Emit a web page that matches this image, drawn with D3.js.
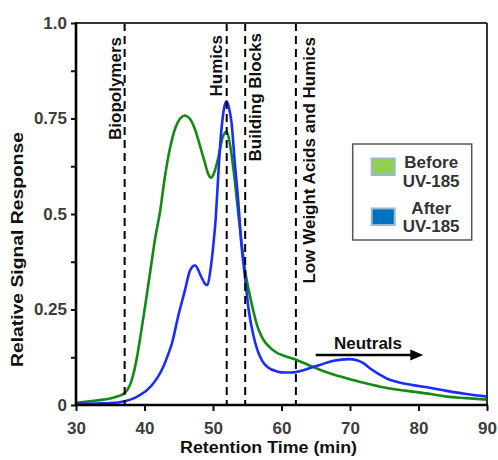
<!DOCTYPE html>
<html>
<head>
<meta charset="utf-8">
<script src="https://cdn.jsdelivr.net/npm/d3@7"></script>
<style>
  body { margin: 0; background: #fff; }
  text { font-family: Arial, "Liberation Sans", sans-serif; font-weight: bold; }
</style>
</head>
<body>
<div id="chart"></div>
<script>
// retention time (min) / relative signal, before UV-185
var beforeT = [30, 32, 34, 35, 36, 37, 37.5, 38, 38.5, 39, 39.5, 40.1, 40.8, 41.5, 42.3, 43.0, 43.7, 44.5, 45.2, 45.9, 46.6, 47.3, 48.0, 48.8, 49.3, 49.7, 50.1, 50.8, 51.4, 52.0, 52.5, 53.1, 53.7, 54.2, 54.7, 55.4, 56.0, 56.5, 57.0, 57.5, 58.3, 59.2, 60.5, 62.2, 64, 65.1, 67, 69.5, 72, 74.4, 77, 79.2, 82, 84.1, 87, 90];
var beforeV = [0.006, 0.010, 0.014, 0.017, 0.022, 0.030, 0.040, 0.058, 0.090, 0.135, 0.19, 0.26, 0.345, 0.43, 0.51, 0.60, 0.67, 0.725, 0.75, 0.758, 0.75, 0.725, 0.685, 0.635, 0.605, 0.595, 0.605, 0.65, 0.70, 0.716, 0.68, 0.60, 0.50, 0.42, 0.35, 0.285, 0.238, 0.205, 0.183, 0.167, 0.151, 0.138, 0.128, 0.118, 0.104, 0.096, 0.083, 0.070, 0.058, 0.048, 0.040, 0.035, 0.028, 0.022, 0.018, 0.014];

// after UV-185
var afterT = [30, 33, 35, 37.1, 38.5, 39.3, 40.3, 41.3, 42.0, 42.75, 43.4, 44.0, 44.9, 45.9, 46.6, 47.0, 47.4, 47.8, 48.3, 48.8, 49.2, 49.6, 50.0, 50.4, 50.7, 51.0, 51.4, 51.8, 52.0, 52.3, 52.7, 53.2, 53.7, 54.1, 54.7, 55.2, 55.9, 56.5, 57.2, 58.0, 59.3, 60.5, 61.5, 63.2, 64.5, 65.6, 67.6, 69.8, 71, 71.9, 73, 74.4, 75.5, 76.8, 79.2, 82, 84.1, 87, 90];
var afterV = [0.003, 0.004, 0.005, 0.010, 0.018, 0.026, 0.038, 0.057, 0.075, 0.10, 0.13, 0.161, 0.231, 0.30, 0.350, 0.362, 0.366, 0.355, 0.335, 0.318, 0.314, 0.35, 0.41, 0.49, 0.58, 0.67, 0.75, 0.79, 0.795, 0.78, 0.74, 0.63, 0.53, 0.43, 0.33, 0.25, 0.182, 0.143, 0.115, 0.099, 0.088, 0.085, 0.085, 0.091, 0.099, 0.105, 0.116, 0.120, 0.117, 0.110, 0.095, 0.079, 0.068, 0.061, 0.052, 0.044, 0.037, 0.029, 0.022];

// fraction boundaries (dashed lines)
var regionT = [37.1, 52.0, 54.7, 62.1];
var regionLabels = ['Biopolymers', 'Humics', 'Building Blocks', 'Low Weight Acids and Humics'];

var xTicks = [30, 40, 50, 60, 70, 80, 90];
var yTicks = [0, 0.25, 0.5, 0.75, 1];
var yTickLabels = ['0', '0.25', '0.5', '0.75', '1.0'];
var yMinor = [0.125, 0.375, 0.625, 0.875];

var legendLabels = [['Before', 'UV-185'], ['After', 'UV-185']];
var neutralsT = [65, 80.7];
var neutralsV = 0.131;

var margins = {left: 76, right: 11, top: 23, bottom: 55},
  w = 498 - margins.left - margins.right,
  h = 460 - margins.top - margins.bottom;

var svg = d3.select('#chart')
  .append('svg')
  .attr('width', 498)
  .attr('height', 460)
  .append('g')
  .attr('transform', 'translate(' + margins.left + ',' + margins.top + ')');

var xScale = d3.scaleLinear().range([0, w]).domain([30, 90]);
var yScale = d3.scaleLinear().range([h, 0]).domain([0, 1]);

// axes
svg.append('g')
  .attr('class', 'axis y-axis')
  .call(d3.axisLeft(yScale).tickValues(yTicks).tickSize(5).tickPadding(4)
    .tickFormat(function(d, i) { return yTickLabels[i]; }));
svg.append('g')
  .call(d3.axisLeft(yScale).tickValues(yMinor).tickSize(5).tickFormat(''));
svg.append('g')
  .attr('class', 'axis x-axis')
  .attr('transform', 'translate(0,' + h + ')')
  .call(d3.axisBottom(xScale).tickValues(xTicks).tickSize(6).tickPadding(11));

svg.selectAll('.domain').remove();
svg.selectAll('.tick line').attr('stroke', '#111').attr('stroke-width', 2);
svg.selectAll('.tick text')
  .attr('font-size', 17)
  .attr('font-family', 'Arial, "Liberation Sans", sans-serif')
  .attr('font-weight', 'bold')
  .attr('fill', '#3d3d3d');

// curves
var line = d3.line()
  .x(function(d) { return xScale(d[0]); })
  .y(function(d) { return yScale(d[1]); })
  .curve(d3.curveMonotoneX);

svg.append('path')
  .datum(d3.zip(beforeT, beforeV))
  .attr('d', line)
  .attr('fill', 'none')
  .attr('stroke', '#138a13')
  .attr('stroke-width', 2.6);

svg.append('path')
  .datum(d3.zip(afterT, afterV))
  .attr('d', line)
  .attr('fill', 'none')
  .attr('stroke', '#1c2cff')
  .attr('stroke-width', 2.6);

// dashed region boundaries
svg.selectAll('.region')
  .data(regionT)
  .enter()
  .append('line')
  .attr('class', 'region')
  .attr('x1', function(d) { return xScale(d); })
  .attr('x2', function(d) { return xScale(d); })
  .attr('y1', 0)
  .attr('y2', h)
  .attr('stroke', '#000')
  .attr('stroke-width', 2)
  .attr('stroke-dasharray', '8,5');

// region labels: offset from the dashed line, top of text near the frame
var labelDx = [-3.5, -4.5, 16, 19.5];
var labelTop = [14, 12, 10, 14];
svg.selectAll('.region-label')
  .data(regionLabels)
  .enter()
  .append('text')
  .attr('class', 'region-label')
  .attr('transform', function(d, i) {
    return 'translate(' + (xScale(regionT[i]) + labelDx[i]) + ',' + labelTop[i] + ') rotate(-90)';
  })
  .attr('text-anchor', 'end')
  .attr('font-size', 17)
  .attr('fill', '#111')
  .text(function(d) { return d; });

// frame
svg.append('line').attr('x1', 0).attr('x2', w).attr('y1', 0).attr('y2', 0)
  .attr('stroke', '#333').attr('stroke-width', 2);
svg.append('line').attr('x1', w).attr('x2', w).attr('y1', 0).attr('y2', h)
  .attr('stroke', '#333').attr('stroke-width', 2);
svg.append('line').attr('x1', 0).attr('x2', 0).attr('y1', -1).attr('y2', h + 1)
  .attr('stroke', '#000').attr('stroke-width', 2.6);
svg.append('line').attr('x1', -1).attr('x2', w + 1).attr('y1', h).attr('y2', h)
  .attr('stroke', '#000').attr('stroke-width', 2.6);

// neutrals arrow
var ay = yScale(neutralsV);
var ax0 = xScale(neutralsT[0]), ax1 = xScale(neutralsT[1]);
svg.append('line')
  .attr('x1', ax0).attr('x2', ax1 - 10)
  .attr('y1', ay).attr('y2', ay)
  .attr('stroke', '#000').attr('stroke-width', 2.4);
svg.append('path')
  .attr('d', 'M' + ax1 + ',' + ay + 'L' + (ax1 - 13) + ',' + (ay - 5.5) + 'L' + (ax1 - 13) + ',' + (ay + 5.5) + 'Z')
  .attr('fill', '#000');
svg.append('text')
  .attr('x', (ax0 + ax1) / 2 - 1.5)
  .attr('y', ay - 6)
  .attr('text-anchor', 'middle')
  .attr('font-size', 17)
  .attr('fill', '#111')
  .text('Neutrals');

// axis titles
svg.append('text')
  .attr('x', w / 2 - 13)
  .attr('y', h + 48)
  .attr('text-anchor', 'middle')
  .attr('font-size', 16)
  .attr('textLength', 177)
  .attr('lengthAdjust', 'spacingAndGlyphs')
  .attr('fill', '#111')
  .text('Retention Time (min)');

svg.append('text')
  .attr('transform', 'translate(' + (23 - margins.left) + ',' + (249.5 - margins.top) + ') rotate(-90)')
  .attr('text-anchor', 'middle')
  .attr('font-size', 16)
  .attr('textLength', 235)
  .attr('lengthAdjust', 'spacingAndGlyphs')
  .attr('fill', '#111')
  .text('Relative  Signal Response');

// legend
var legend = svg.append('g')
  .attr('transform', 'translate(' + (352.7 - margins.left) + ',' + (144 - margins.top) + ')');
legend.append('rect')
  .attr('width', 119).attr('height', 96)
  .attr('fill', '#fff').attr('stroke', '#555').attr('stroke-width', 1.5);
var swatchFill = ['#92d050', '#0070c0'];
legendLabels.forEach(function(lab, i) {
  legend.append('rect')
    .attr('x', 19).attr('y', 14.5 + i * 50)
    .attr('width', 23).attr('height', 16.5)
    .attr('fill', swatchFill[i])
    .attr('stroke', '#9bb8cc').attr('stroke-width', 2);
  lab.forEach(function(t, j) {
    legend.append('text')
      .attr('x', 78.5)
      .attr('y', 24.3 + i * 45.5 + j * 18.2)
      .attr('text-anchor', 'middle')
      .attr('font-size', 17)
      .attr('fill', '#333')
      .text(t);
  });
});
</script>
</body>
</html>
